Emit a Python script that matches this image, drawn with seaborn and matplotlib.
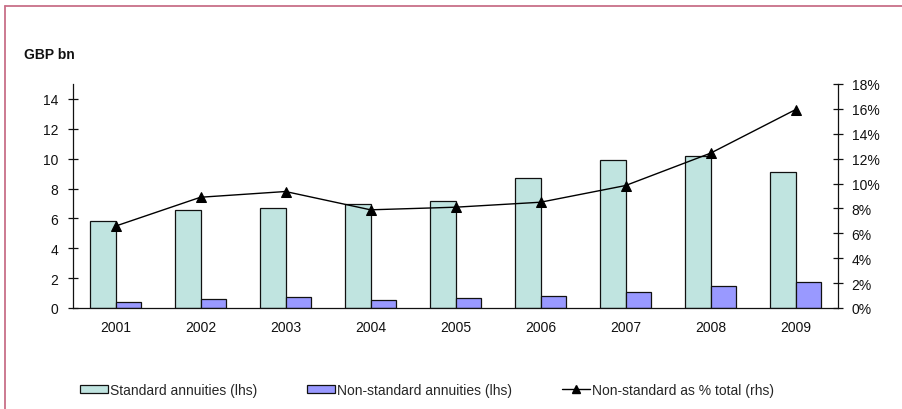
import numpy as np
import pandas as pd
import matplotlib
matplotlib.use("Agg")
import matplotlib.pyplot as plt
from matplotlib.lines import Line2D
from matplotlib.patches import Patch
from matplotlib.ticker import FuncFormatter
import seaborn as sns

# Annuity sales, GBP bn, and the non-standard share of the total
years = ["2001", "2002", "2003", "2004", "2005", "2006", "2007", "2008", "2009"]
standard = [5.83, 6.58, 6.72, 6.94, 7.17, 8.73, 9.93, 10.15, 9.11]
non_standard = [0.40, 0.62, 0.71, 0.56, 0.64, 0.80, 1.07, 1.45, 1.74]
share_pct = [6.58, 8.90, 9.36, 7.89, 8.10, 8.50, 9.84, 12.44, 15.94]

series_names = ["Standard annuities (lhs)", "Non-standard annuities (lhs)"]
line_name = "Non-standard as % total (rhs)"
unit_label = "GBP bn"

c_std = "#c0e4e0"
c_non = "#9999ff"
ink = "#111111"

sns.set_style("white")
plt.rcParams["font.family"] = ["Liberation Sans", "DejaVu Sans"]
plt.rcParams["font.size"] = 10

df = pd.DataFrame({
    "year": years * 2,
    "value": standard + non_standard,
    "series": [series_names[0]] * len(years) + [series_names[1]] * len(years),
})

W, H = 902, 410
fig = plt.figure(figsize=(W / 100, H / 100), dpi=100)
ax = fig.add_axes([73 / W, 101 / H, 765 / W, 224 / H])

sns.barplot(data=df, x="year", y="value", hue="series",
            palette=[c_std, c_non], width=0.59, edgecolor=ink,
            linewidth=0.9, saturation=1, legend=False, ax=ax)
ax.set_xlabel("")
ax.set_ylabel("")
ax.set_xlim(-0.5, len(years) - 0.5)
ax.set_ylim(0, 15)
ax.set_yticks(np.arange(0, 15, 2))

# category separators as major ticks, year labels on minor ticks
ax.set_xticks(np.arange(-0.5, len(years), 1.0), labels=[""] * (len(years) + 1))
ax.set_xticks(np.arange(len(years)), labels=years, minor=True)
ax.tick_params(axis="x", which="major", direction="inout", length=6.5,
               width=0.9, color=ink)
ax.tick_params(axis="x", which="minor", length=0, pad=9, labelsize=10,
               labelcolor=ink)
ax.tick_params(axis="y", direction="inout", length=6.5, width=0.9,
               color=ink, pad=7.3, labelsize=10, labelcolor=ink, left=True)

ax2 = ax.twinx()
sns.lineplot(x=np.arange(len(years)), y=share_pct, ax=ax2, color="black",
             linewidth=1.0, marker="^", markersize=7,
             markeredgecolor="black", markerfacecolor="black")
ax2.set_ylim(0, 18)
ax2.set_yticks(np.arange(0, 19, 2))
ax2.yaxis.set_major_formatter(FuncFormatter(lambda v, p: f"{v:.0f}%"))
ax2.tick_params(axis="y", direction="inout", length=6.5, width=0.9,
                color=ink, pad=6.6, labelsize=10, labelcolor=ink, right=True)
ax2.set_xlim(-0.5, len(years) - 0.5)

for a in (ax, ax2):
    a.spines["top"].set_visible(False)
    for s in ("left", "right", "bottom"):
        a.spines[s].set_color(ink)
        a.spines[s].set_linewidth(0.9)
ax.spines["right"].set_visible(False)
ax2.spines["left"].set_visible(False)
ax2.spines["bottom"].set_visible(False)

fig.text(24 / W, 1 - 59 / H, unit_label, fontsize=10, fontweight="bold",
         va="baseline", ha="left", color=ink)

handles = [
    Patch(facecolor=c_std, edgecolor=ink, linewidth=0.9),
    Patch(facecolor=c_non, edgecolor=ink, linewidth=0.9),
    Line2D([], [], color="black", linewidth=1.0, marker="^", markersize=6),
]
fig.legend(handles, series_names + [line_name], loc="center left",
           bbox_to_anchor=(80 / W, 1 - 391 / H), ncol=3, frameon=False,
           borderpad=0, borderaxespad=0, handlelength=2.0, handleheight=0.55,
           handletextpad=0.15, columnspacing=3.6, fontsize=10)

# pink frame along top and left edges
frame_c = "#c87088"
fig.add_artist(Line2D([5 / W, 1], [1 - 7 / H, 1 - 7 / H], color=frame_c,
                      linewidth=1.3, transform=fig.transFigure))
fig.add_artist(Line2D([5 / W, 5 / W], [0, 1 - 7 / H], color=frame_c,
                      linewidth=1.3, transform=fig.transFigure))

fig.savefig("out.png", dpi=100, facecolor="white")
